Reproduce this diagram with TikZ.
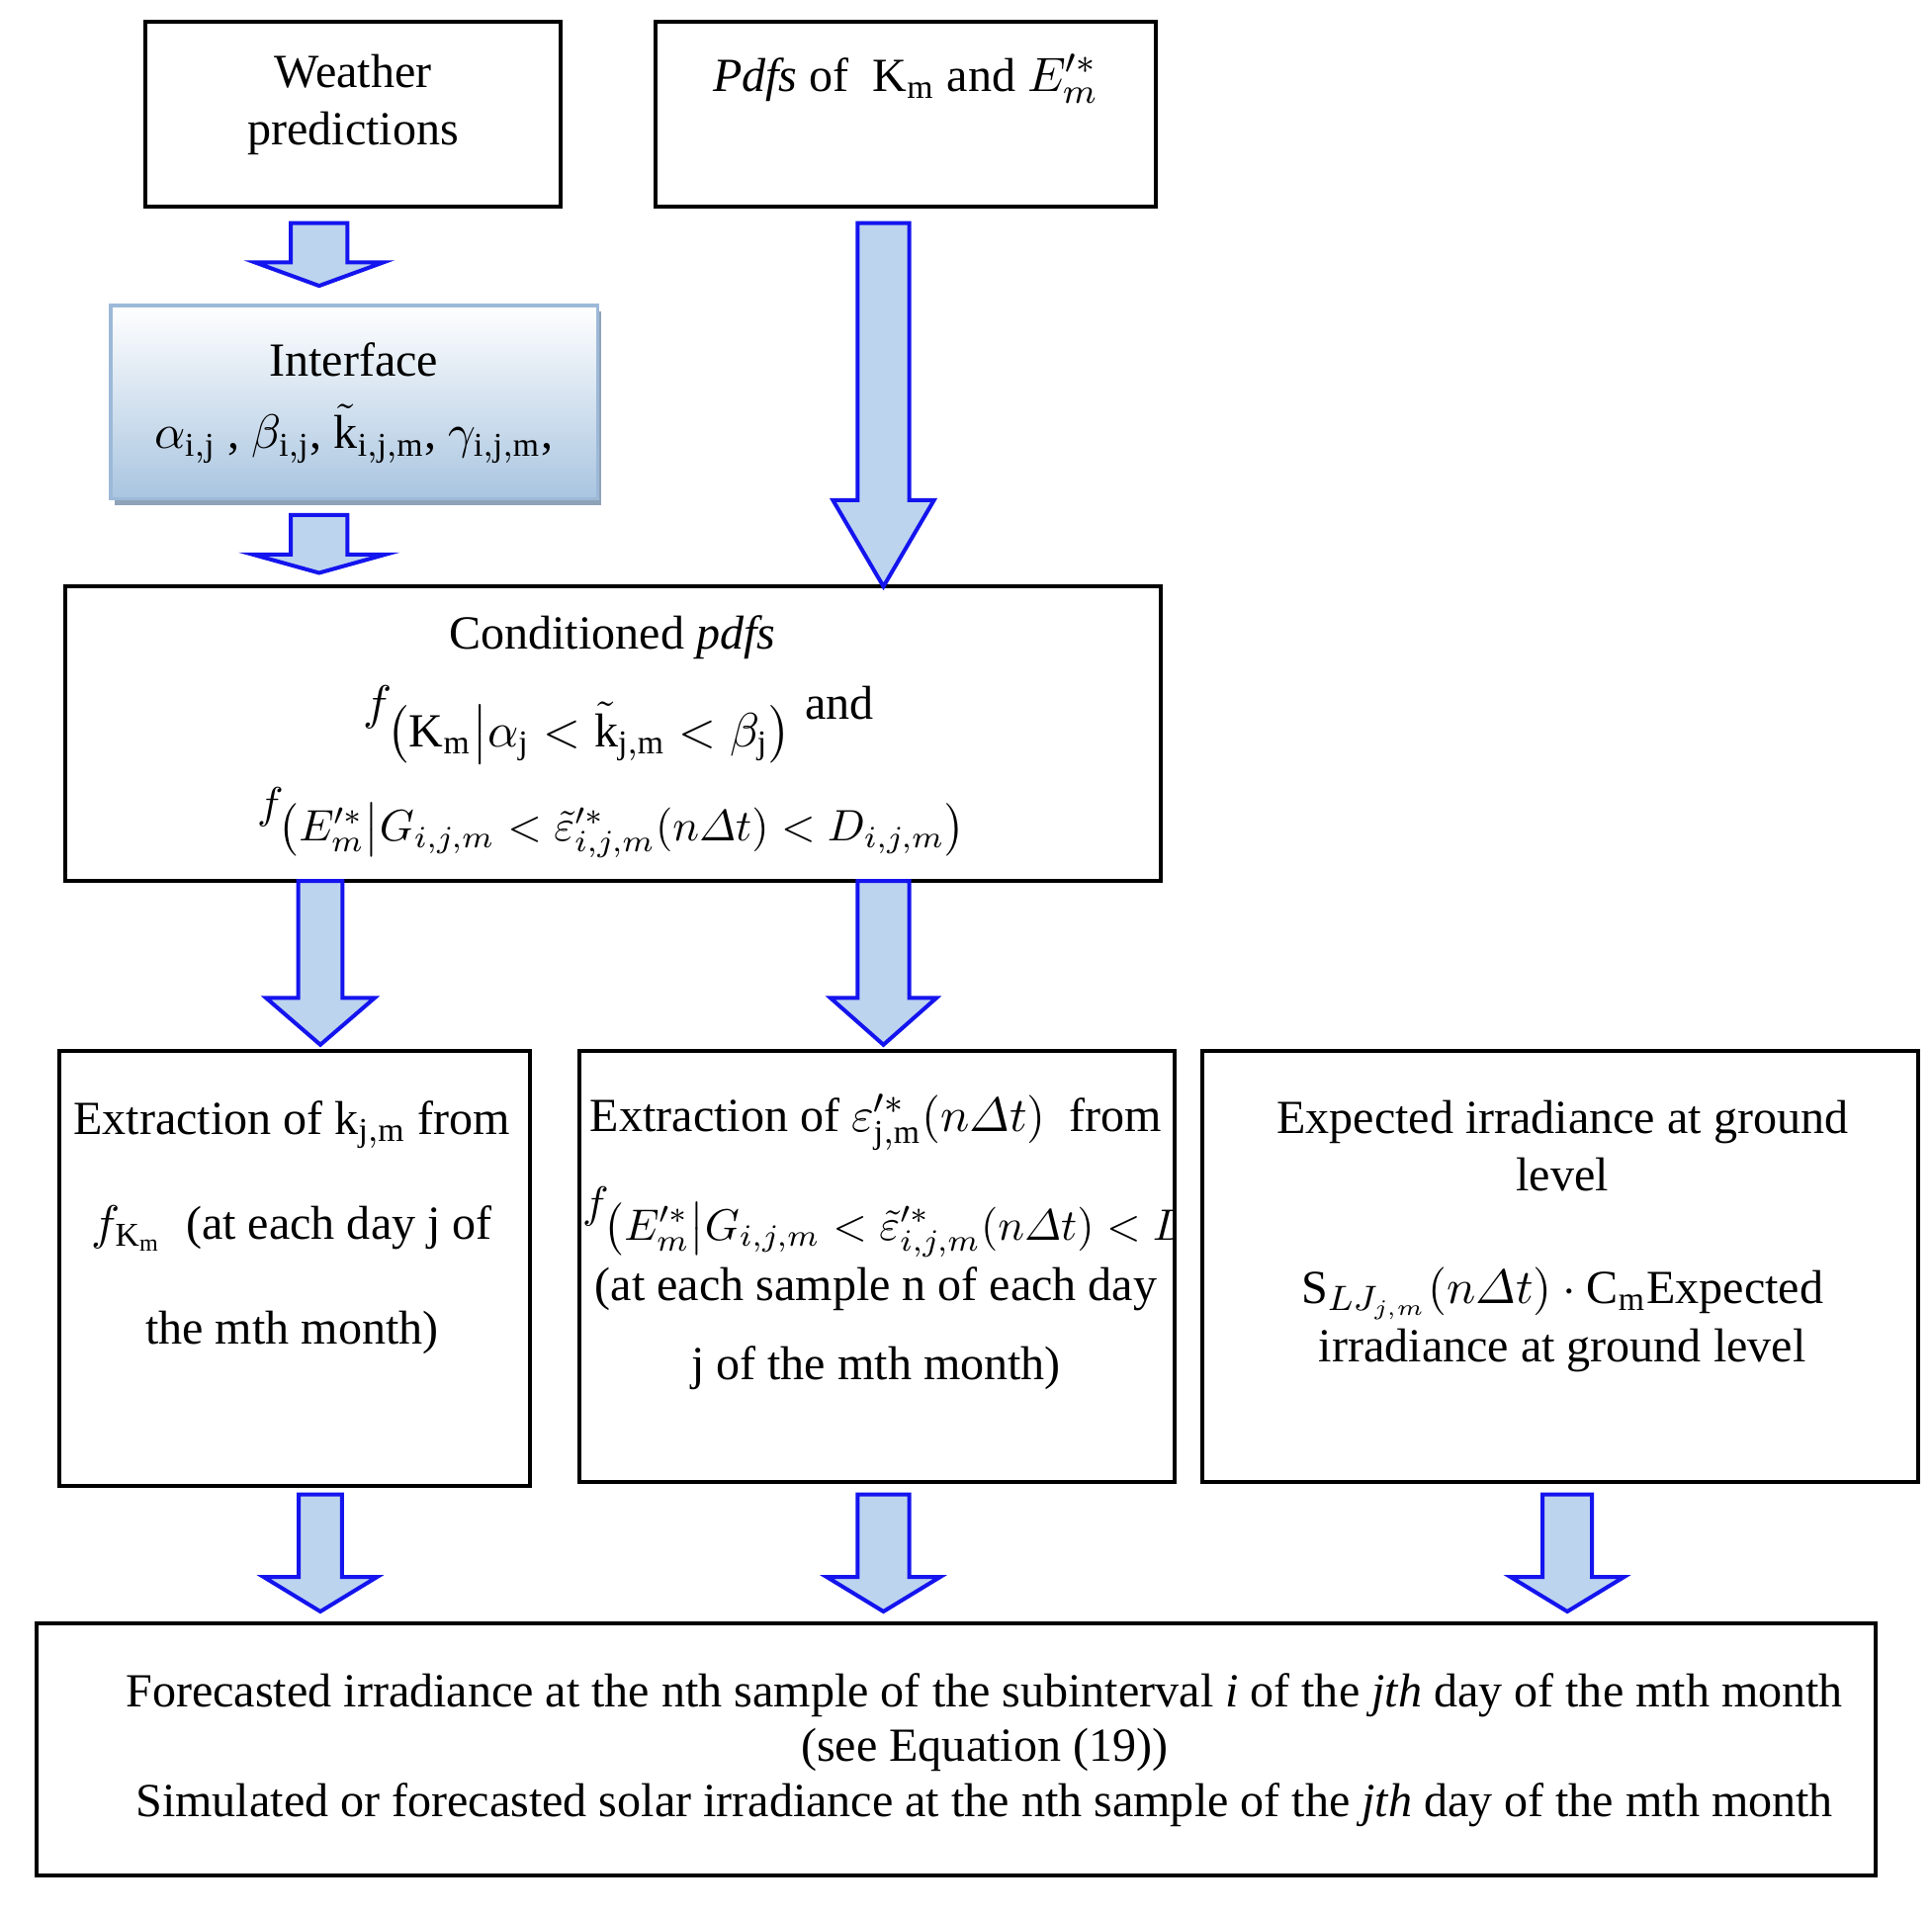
\documentclass[tikz,border=0pt]{standalone}
\usepackage{amsmath}
\usepackage{fontspec}
\setmainfont{Liberation Serif}
\usetikzlibrary{calc,shadows}
\definecolor{ablue}{HTML}{1414EE}
\definecolor{afill}{HTML}{BCD4EE}
\definecolor{ibord}{HTML}{9DB9D8}
\definecolor{ibot}{HTML}{A9C5E0}
\definecolor{ishad}{HTML}{8FA3B8}
\newcommand\mkbox[5]{\node[boxst, minimum width=#4*0.28pt, minimum height=#5*0.28pt] (#1) at (#2,#3) {};}
% block arrow: top coord, tip coord, shaft half, head half, head length (px)
\newcommand\blk[5]{\path[barrow] let \p1=(#1), \p2=(#2) in
  (\x1-#3*0.28pt,\y1) -- (\x1+#3*0.28pt,\y1) -- (\x1+#3*0.28pt,\y2+#5*0.28pt)
  -- (\x1+#4*0.28pt,\y2+#5*0.28pt) -- (\x2,\y2) -- (\x1-#4*0.28pt,\y2+#5*0.28pt)
  -- (\x1-#3*0.28pt,\y2+#5*0.28pt) -- cycle;}
\begin{document}
\begin{tikzpicture}[x=0.28pt,y=-0.28pt,
  font=\fontsize{10.8}{13.2}\selectfont,
  boxst/.style={draw=black, line width=0.9pt, inner sep=0pt, outer sep=0pt, fill=white},
  barrow/.style={draw=ablue, fill=afill, line width=0.9pt, line join=miter},
  txt/.style={inner sep=0pt, align=center},
  smallmath/.style={font=\fontsize{9.9}{12}\selectfont}]
\useasboundingbox (0,0) rectangle (1568,1555);
\fill[white] (0,0) rectangle (1568,1555);

% boxes
\mkbox{weather}{286.5}{93}{337}{150}
\mkbox{pdfs}{735}{93}{406}{150}
\node[draw=ibord, line width=0.8pt, inner sep=0pt, top color=white, bottom color=ibot,
  minimum width=395*0.28pt, minimum height=157*0.28pt,
  drop shadow={shadow xshift=0.8pt, shadow yshift=-1.4pt, fill=ishad, opacity=1}]
  (iface) at (287.5,326.5) {};
\mkbox{cond}{497.5}{595.5}{889}{239}
\mkbox{exa}{239}{1029.5}{382}{353}
\mkbox{exb}{711.5}{1028}{483}{350}
\mkbox{expd}{1266.5}{1028}{581}{350}
\mkbox{fore}{776}{1420}{1492}{204}

% texts
\node[txt] (tw) at (286.5,85) {Weather\\predictions};
\node[txt] (tp) at (735,64) {\textit{Pdfs} of\ \ $\mathrm{K}_{\mathrm{m}}$ and $E'^{*}_{m}$};
\node[txt] (ti1) at (287,292) {Interface};
\node[txt] (ti2) at (287,352) {$\alpha_{\mathrm{i,j}}$ , $\beta_{\mathrm{i,j}}$, $\tilde{\mathrm{k}}_{\mathrm{i,j,m}}$, $\gamma_{\mathrm{i,j,m}}$,};
\node[txt] (tc1) at (497,517) {Conditioned \textit{pdfs}};
\node[txt] (tc2) at (502,588) {$f_{\textstyle\bigl(\mathrm{K}_{\mathrm{m}}\big|\alpha_{\mathrm{j}}<\tilde{\mathrm{k}}_{\mathrm{j,m}}<\beta_{\mathrm{j}}\bigr)}$ and};
\node[txt, smallmath] (tc3) at (497,668) {$f_{\textstyle\bigl(E'^{*}_{m}\big|G_{i,j,m}<\tilde{\varepsilon}'^{*}_{i,j,m}(n\varDelta t)<D_{i,j,m}\bigr)}$};

\node[txt] (ta1) at (237,913) {Extraction of $\mathrm{k}_{\mathrm{j,m}}$ from};
\node[txt] (ta2) at (237,997) {$f_{\mathrm{K}_{\mathrm{m}}}$\ \ (at each day j of};
\node[txt] (ta3) at (237,1082) {the mth month)};

\node[txt] (tb1) at (711,911) {Extraction of $\varepsilon'^{*}_{\mathrm{j,m}}(n\varDelta t)$\ \ from};
\begin{scope}
\clip (exb.south west) rectangle (exb.north east);
\node[txt, smallmath, anchor=west] (tb2) at (472,992) {$f_{\textstyle\bigl(E'^{*}_{m}\big|G_{i,j,m}<\tilde{\varepsilon}'^{*}_{i,j,m}(n\varDelta t)<D_{i,j,m}\bigr)}$};
\end{scope}
\node[txt] (tb3) at (711,1046) {(at each sample n of each day};
\node[txt] (tb4) at (711,1110) {j of the mth month)};

\node[txt] (te1) at (1268,930) {Expected irradiance at ground\\level};
\node[txt] (te2) at (1268,1071) {$\mathrm{S}_{LJ_{j,m}}(n\varDelta t)\cdot\mathrm{C}_{\mathrm{m}}$Expected\\irradiance at ground level};

\node[txt] (tf1) at (799,1376) {Forecasted irradiance at the nth sample of the subinterval \textit{i} of the \textit{jth} day of the mth month};
\node[txt] (tf2) at (799,1420) {(see Equation (19))};
\node[txt] (tf3) at (799,1465) {Simulated or forecasted solar irradiance at the nth sample of the \textit{jth} day of the mth month};

% arrow anchor coordinates
\coordinate (a1t) at (259,181);  \coordinate (a1b) at (259,232);
\coordinate (a2t) at (259,418);  \coordinate (a2b) at (259,465);
\coordinate (a3t) at (717,181);  \coordinate (a3b) at (cond.north -| 717,0);
\coordinate (a4t) at (cond.south -| 260,0); \coordinate (a4b) at (260,848);
\coordinate (a5t) at (cond.south -| 717,0); \coordinate (a5b) at (717,848);
\coordinate (a6t) at (260,1213); \coordinate (a6b) at (260,1308);
\coordinate (a7t) at (717,1213); \coordinate (a7b) at (717,1308);
\coordinate (a8t) at (1272,1213); \coordinate (a8b) at (1272,1308);

\blk{a1t}{a1b}{23}{52}{19}
\blk{a2t}{a2b}{23}{54}{15}
\blk{a3t}{a3b}{21}{41}{70}
\blk{a4t}{a4b}{18}{44}{38}
\blk{a5t}{a5b}{21}{43}{38}
\blk{a6t}{a6b}{17.5}{46}{28}
\blk{a7t}{a7b}{21}{46}{28}
\blk{a8t}{a8b}{20}{46}{28}
\end{tikzpicture}
\end{document}
